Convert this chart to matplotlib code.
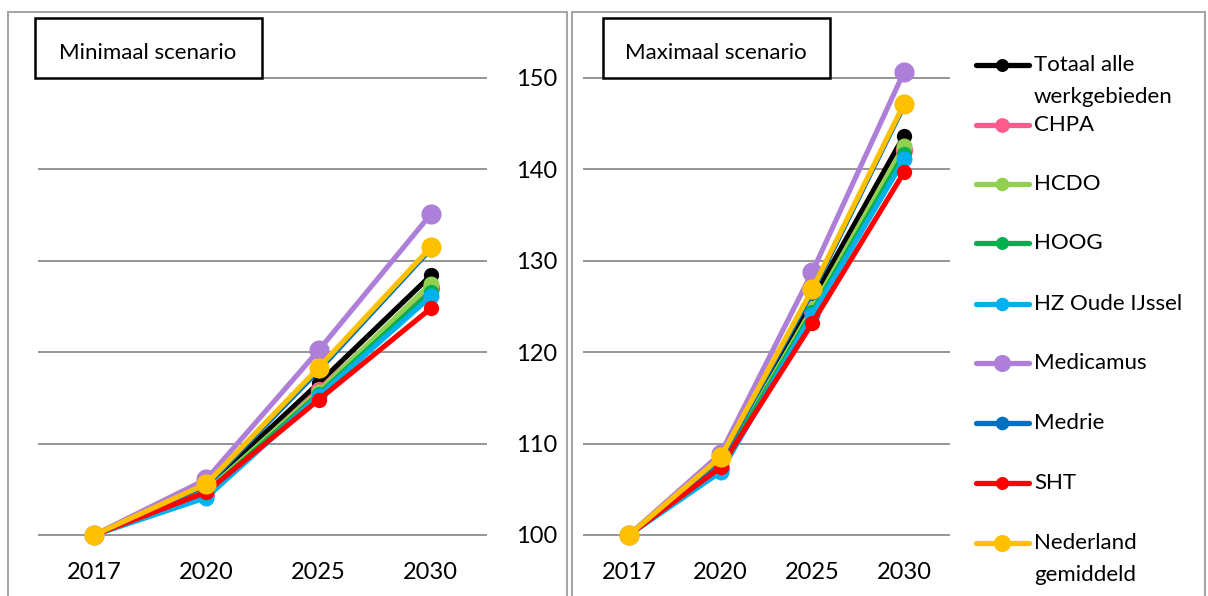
import matplotlib
matplotlib.use("Agg")
import matplotlib.pyplot as plt
from matplotlib.patches import Rectangle
from matplotlib.lines import Line2D

plt.rcParams['font.family'] = ['Lato', 'DejaVu Sans']

years = ["2017", "2020", "2025", "2030"]
series_names = ["Totaal alle\nwerkgebieden", "CHPA", "HCDO", "HOOG", "HZ Oude IJssel",
                "Medicamus", "Medrie", "SHT", "Nederland\ngemiddeld"]
colors = ["#000000", "#FF5A8C", "#92D050", "#00B050", "#00B0F0",
          "#AD7FD8", "#0070C0", "#FF0000", "#FFC000"]
marker_sizes = [11, 12.5, 11.5, 11, 11.5, 14.5, 11.5, 11, 14.5]

# Minimaal scenario (index 2017 = 100)
min_totaal = [100, 105.2, 116.6, 128.4]
min_chpa = [100, 104.5, 115.9, 127.0]
min_hcdo = [100, 104.8, 115.7, 127.5]
min_hoog = [100, 104.6, 115.4, 126.6]
min_hz = [100, 104.1, 115.2, 126.1]
min_medicamus = [100, 106.1, 120.2, 135.1]
min_medrie = [100, 105.4, 118.0, 131.3]
min_sht = [100, 104.7, 114.8, 124.8]
min_nederland = [100, 105.6, 118.3, 131.5]

# Maximaal scenario (index 2017 = 100)
max_totaal = [100, 108.0, 125.8, 143.7]
max_chpa = [100, 107.3, 124.5, 142.1]
max_hcdo = [100, 107.6, 124.8, 142.6]
max_hoog = [100, 107.4, 124.4, 141.7]
max_hz = [100, 106.9, 124.1, 141.1]
max_medicamus = [100, 108.9, 128.8, 150.7]
max_medrie = [100, 108.2, 126.6, 147.0]
max_sht = [100, 107.4, 123.2, 139.7]
max_nederland = [100, 108.5, 126.9, 147.2]

min_series = [min_totaal, min_chpa, min_hcdo, min_hoog, min_hz,
              min_medicamus, min_medrie, min_sht, min_nederland]
max_series = [max_totaal, max_chpa, max_hcdo, max_hoog, max_hz,
              max_medicamus, max_medrie, max_sht, max_nederland]

y_ticks = [100, 110, 120, 130, 140, 150]

W, H = 1208, 596
fig = plt.figure(figsize=(W / 100, H / 100), dpi=100)


def fx(px):
    return px / W


def fy(py):
    return 1 - py / H


# panel frames
for x0, x1 in [(8, 567), (572, 1205)]:
    fig.add_artist(Rectangle((fx(x0), fy(620)), fx(x1 - x0), (620 - 12) / H,
                             transform=fig.transFigure, fill=False,
                             edgecolor="#A6A6A6", linewidth=1.5, zorder=0))

y_lo, y_hi = 97, 155
px_per_unit = (535 - 78) / 50.0
ax_bottom = fy(535 + (100 - y_lo) * px_per_unit)
ax_height = (y_hi - y_lo) * px_per_unit / H


def make_axes(left_px, right_px, data, show_y):
    ax = fig.add_axes([fx(left_px), ax_bottom, fx(right_px - left_px), ax_height])
    ax.set_xlim(-0.5, len(years) - 0.5)
    ax.set_ylim(y_lo, y_hi)
    ax.patch.set_alpha(0)
    for s in ax.spines.values():
        s.set_visible(False)
    ax.set_yticks(y_ticks)
    ax.yaxis.grid(True, color="#8C8C8C", linewidth=1.3)
    ax.set_axisbelow(True)
    ax.set_xticks(range(len(years)))
    ax.set_xticklabels(years)
    ax.tick_params(axis="x", length=0, pad=0, labelsize=17)
    if show_y:
        ax.yaxis.tick_right()
        ax.tick_params(axis="y", length=0, pad=21, labelsize=17)
    else:
        ax.tick_params(axis="y", length=0, labelleft=False, labelright=False)
    x = list(range(len(years)))
    for vals, c, ms in zip(data, colors, marker_sizes):
        ax.plot(x, vals, color=c, linewidth=3.7, marker="o", markersize=ms,
                markeredgewidth=0, solid_capstyle="round", clip_on=False)
    return ax


make_axes(38, 487, min_series, True)
make_axes(583, 950, max_series, False)

# scenario title boxes
for (x0, x1), title in [((35, 262), "Minimaal scenario"), ((603, 830), "Maximaal scenario")]:
    fig.add_artist(Rectangle((fx(x0), fy(78)), fx(x1 - x0), 60 / H,
                             transform=fig.transFigure, facecolor="white",
                             edgecolor="black", linewidth=1.8, zorder=5))
    fig.text(fx((x0 + x1) / 2 - 1), fy(53), title, ha="center", va="center",
             fontsize=16, zorder=6)

# legend
legend_y = [65, 125, 184, 243, 304, 363, 423, 483, 543]
for yy, name, c, ms in zip(legend_y, series_names, colors, marker_sizes):
    fig.add_artist(Line2D([fx(976), fx(1029)], [fy(yy), fy(yy)], color=c,
                          linewidth=3.8, solid_capstyle="round",
                          transform=fig.transFigure))
    fig.add_artist(Line2D([fx(1002.5)], [fy(yy)], color=c, marker="o",
                          markersize=ms * 0.85, markeredgewidth=0,
                          transform=fig.transFigure))
    for i, ln in enumerate(name.split("\n")):
        fig.text(fx(1034), fy(yy + i * 32), ln, ha="left", va="center", fontsize=16)

fig.savefig("out.png", dpi=100)
